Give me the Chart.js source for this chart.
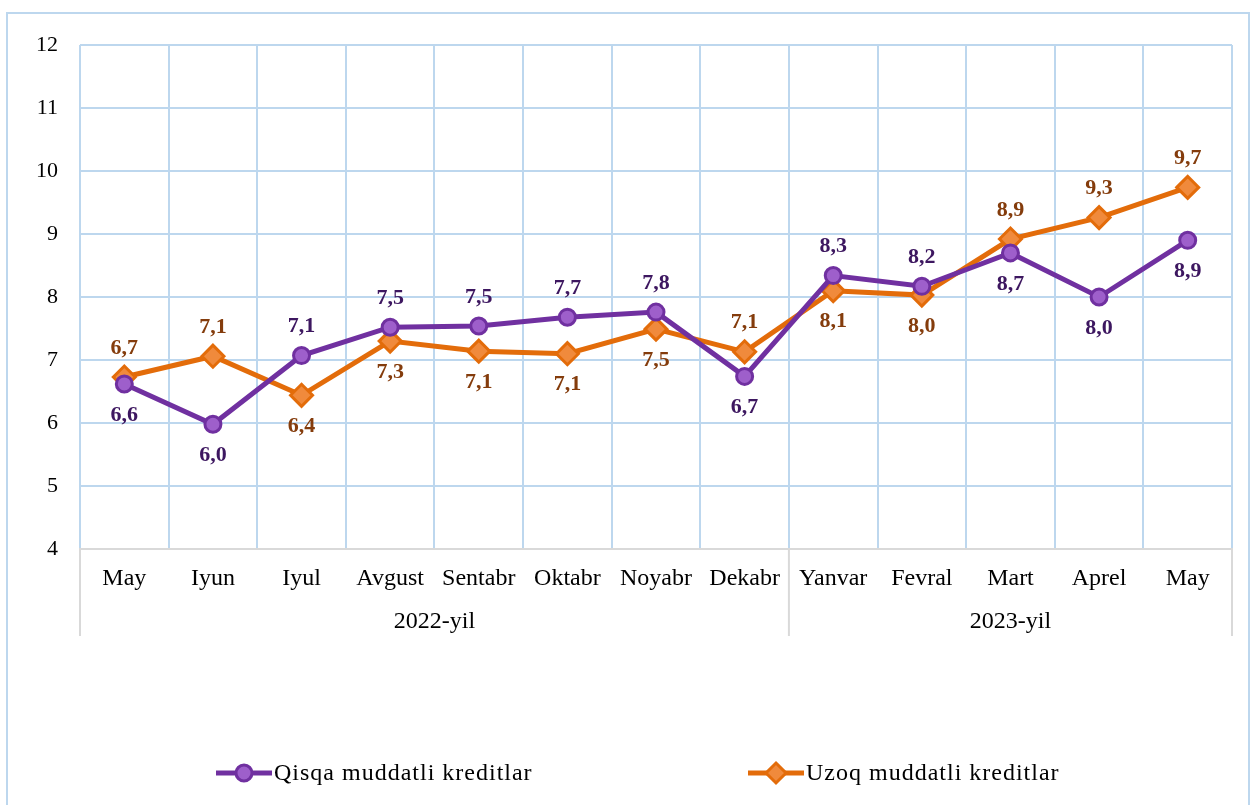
<!DOCTYPE html>
<html>
<head>
<meta charset="utf-8">
<script src="https://cdn.jsdelivr.net/npm/chart.js@4.4.0/dist/chart.umd.min.js"></script>
<style>
  html, body { margin: 0; padding: 0; background: #fff; }
  #wrap { position: relative; width: 1255px; height: 805px; }
</style>
</head>
<body>
<div id="wrap"><canvas id="chart" width="1255" height="805"></canvas></div>
<script>
const months = ["May", "Iyun", "Iyul", "Avgust", "Sentabr", "Oktabr", "Noyabr", "Dekabr", "Yanvar", "Fevral", "Mart", "Aprel", "May"];
const yearLabels = ["2022-yil", "2023-yil"];
const yearCounts = [8, 5];
const shortTerm = [6.62, 5.98, 7.07, 7.52, 7.54, 7.68, 7.76, 6.74, 8.34, 8.17, 8.70, 8.00, 8.90];
const longTerm = [6.73, 7.06, 6.44, 7.30, 7.14, 7.10, 7.49, 7.13, 8.10, 8.03, 8.92, 9.26, 9.74];
const shortLabelSide = ["down", "down", "up", "up", "up", "up", "up", "down", "up", "up", "down", "down", "down"];
const longLabelSide = ["up", "up", "down", "down", "down", "down", "down", "up", "down", "down", "up", "up", "up"];
const yTicks = [4, 5, 6, 7, 8, 9, 10, 11, 12];

const SERIF = "'Liberation Serif', 'Times New Roman', serif";
const GRID = "#bdd7ee";
const AXIS = "#d9d9d9";

// frame, category + year axis text, data labels, legend
const extras = {
  id: "extras",
  beforeDraw(chart) {
    const c = chart.ctx;
    c.save();
    c.strokeStyle = GRID;
    c.lineWidth = 2;
    c.strokeRect(7, 13, 1242, 900);
    c.restore();
  },
  afterDraw(chart) {
    const c = chart.ctx, x = chart.scales.x, area = chart.chartArea;
    const half = (x.getPixelForValue(1) - x.getPixelForValue(0)) / 2;
    c.save();
    c.fillStyle = "#000";
    c.font = "24px " + SERIF;
    c.textAlign = "center";
    c.textBaseline = "middle";
    // month names
    months.forEach((m, i) => c.fillText(m, x.getPixelForValue(i), 579));
    // year groups
    c.strokeStyle = AXIS;
    c.lineWidth = 2;
    let start = 0;
    const edges = [x.getPixelForValue(0) - half];
    yearCounts.forEach((n, g) => {
      const left = x.getPixelForValue(start) - half;
      const right = x.getPixelForValue(start + n - 1) + half;
      edges.push(right);
      c.fillText(yearLabels[g], (left + right) / 2, 622);
      start += n;
    });
    edges.forEach(e => {
      c.beginPath();
      c.moveTo(e, area.bottom);
      c.lineTo(e, 636);
      c.stroke();
    });
    // value labels
    c.font = "bold 22px " + SERIF;
    const drawLabels = (idx, sides, color) => {
      const meta = chart.getDatasetMeta(idx);
      c.fillStyle = color;
      meta.data.forEach((pt, i) => {
        const v = chart.data.datasets[idx].data[i];
        const txt = v.toFixed(1).replace(".", ",");
        const y = sides[i] === "up" ? pt.y - 29 : pt.y + 31;
        c.fillText(txt, pt.x, y);
      });
    };
    drawLabels(0, shortLabelSide, "#3d1760");
    drawLabels(1, longLabelSide, "#843c0c");
    // legend
    const legendY = 773;
    const items = [
      { x: 216, ds: chart.data.datasets[0] },
      { x: 748, ds: chart.data.datasets[1] }
    ];
    c.textAlign = "left";
    c.font = "24px " + SERIF;
    c.letterSpacing = "1px";
    items.forEach(it => {
      c.strokeStyle = it.ds.borderColor;
      c.lineWidth = 5;
      c.beginPath();
      c.moveTo(it.x, legendY);
      c.lineTo(it.x + 56, legendY);
      c.stroke();
      c.fillStyle = it.ds.pointBackgroundColor;
      c.strokeStyle = it.ds.pointBorderColor;
      c.lineWidth = 3;
      c.beginPath();
      const cx = it.x + 28;
      if (it.ds.pointStyle === "rectRot") {
        const r = 10;
        c.moveTo(cx, legendY - r);
        c.lineTo(cx + r, legendY);
        c.lineTo(cx, legendY + r);
        c.lineTo(cx - r, legendY);
        c.closePath();
      } else {
        c.arc(cx, legendY, 8, 0, Math.PI * 2);
      }
      c.fill();
      c.stroke();
      c.fillStyle = "#000";
      c.fillText(it.ds.label, it.x + 58, legendY + 1);
    });
    c.restore();
  }
};

new Chart(document.getElementById("chart"), {
  type: "line",
  data: {
    labels: months,
    datasets: [
      {
        label: "Qisqa muddatli kreditlar",
        data: shortTerm,
        borderColor: "#7030a0",
        borderWidth: 5,
        pointStyle: "circle",
        pointRadius: 8,
        pointBorderWidth: 3,
        pointBackgroundColor: "#9e5fcb",
        pointBorderColor: "#7030a0",
        tension: 0
      },
      {
        label: "Uzoq muddatli kreditlar",
        data: longTerm,
        borderColor: "#e36c0a",
        borderWidth: 5,
        pointStyle: "rectRot",
        pointRadius: 11,
        pointBorderWidth: 3,
        pointBackgroundColor: "#f08a3c",
        pointBorderColor: "#e36c0a",
        tension: 0
      }
    ]
  },
  options: {
    responsive: false,
    animation: false,
    layout: { padding: { top: 45, right: 23, bottom: 0, left: 0 } },
    plugins: { legend: { display: false }, tooltip: { enabled: false } },
    scales: {
      x: {
        offset: true,
        grid: { offset: true, color: GRID, lineWidth: 2, drawTicks: false },
        border: { color: AXIS, width: 2 },
        ticks: { display: false, autoSkip: false },
        afterFit(s) { s.height = 256; }
      },
      y: {
        min: 4,
        max: 12,
        afterBuildTicks(s) { s.ticks = yTicks.map(v => ({ value: v })); },
        grid: { color: GRID, lineWidth: 2, drawTicks: false },
        border: { display: false },
        ticks: { color: "#000", font: { family: SERIF, size: 22 }, padding: 22 },
        afterFit(s) { s.width = 80; }
      }
    }
  },
  plugins: [extras]
});
</script>
</body>
</html>
